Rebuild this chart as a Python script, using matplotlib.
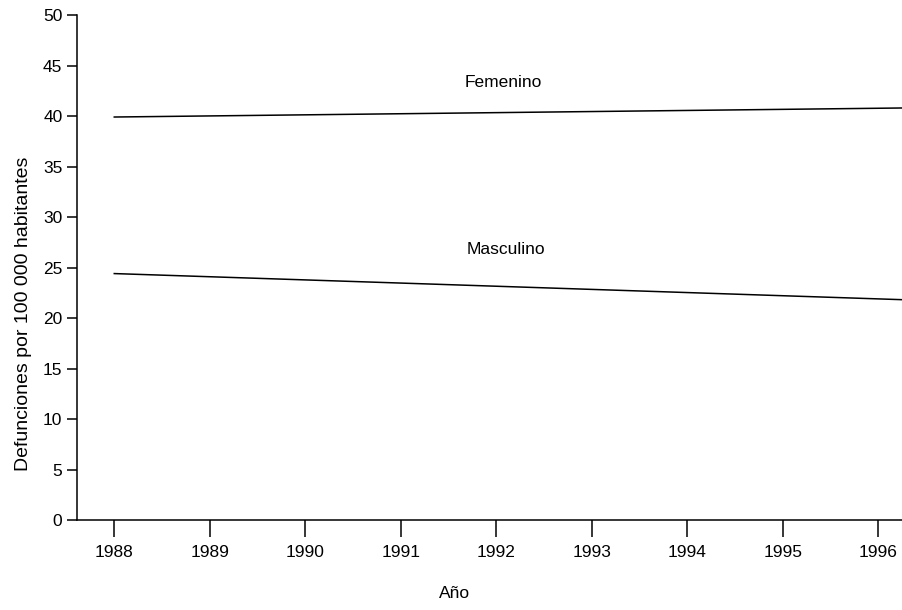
import matplotlib
matplotlib.use("Agg")
import matplotlib.pyplot as plt

# trend lines
years = [1988, 1996.3]
femenino = [39.9, 40.8]
masculino = [24.4, 21.8]
xticks = list(range(1988, 1997))
yticks = list(range(0, 51, 5))

plt.rcParams["font.family"] = ["Liberation Sans", "DejaVu Sans"]

fig = plt.figure(figsize=(9.02, 6.10), dpi=100)
ax = fig.add_axes([0.0854, 0.1475, 0.9146, 0.8279])

ax.plot(years, femenino, color="black", linewidth=1.1)
ax.plot(years, masculino, color="black", linewidth=1.1)
ax.text(1992.07, 43.3, "Femenino", ha="center", va="center", fontsize=12.5)
ax.text(1992.1, 26.8, "Masculino", ha="center", va="center", fontsize=12.5)

ax.set_xlim(1987.61, 1996.25)
ax.set_ylim(0, 50)
ax.set_xticks(xticks)
ax.set_yticks(yticks)
ax.tick_params(axis="x", length=12, width=1.1, labelsize=12.5, pad=6)
ax.tick_params(axis="y", length=7.5, width=1.1, labelsize=12.5, pad=3)
for side in ("top", "right"):
    ax.spines[side].set_visible(False)
for side in ("left", "bottom"):
    ax.spines[side].set_linewidth(1.1)

ax.set_xlabel("Año", fontsize=12.5)
ax.xaxis.set_label_coords(0.458, -0.131)
ax.set_ylabel("Defunciones por 100 000 habitantes", fontsize=14)
ax.yaxis.set_label_coords(-0.054, 0.408)

fig.savefig("out.png", dpi=100)
